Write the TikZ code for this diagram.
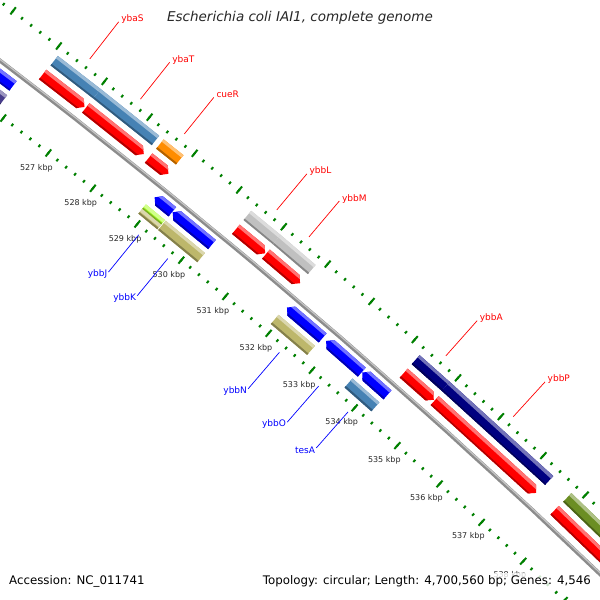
\documentclass[tikz,border=0pt]{standalone}
\usepackage{fontspec}
\setmainfont{DejaVu Sans}
\usepackage{tikz}
\usetikzlibrary{calc}
\definecolor{cvRed}{RGB}{255,0,0}
\definecolor{cvBlue}{RGB}{0,0,255}
\definecolor{cvSteel}{RGB}{70,130,180}
\definecolor{cvSilver}{RGB}{192,192,192}
\definecolor{cvNavy}{RGB}{0,0,128}
\definecolor{cvOrange}{RGB}{255,140,0}
\definecolor{cvKhaki}{RGB}{189,183,107}
\definecolor{cvLime}{RGB}{173,255,47}
\definecolor{cvOlive}{RGB}{107,142,35}
\definecolor{cvSlate}{RGB}{72,61,139}
\definecolor{cvTick}{RGB}{0,128,0}
\definecolor{cvText}{RGB}{40,40,40}
\definecolor{cvBack}{RGB}{140,140,140}
\tikzset{
    backbone/.style={draw=cvBack, line width=4},
    backlight/.style={draw=cvBack!50!white, line width=1.2},
    minortick/.style={draw=cvTick, line width=2},
    majortick/.style={draw=cvTick, line width=2},
    ticklabel/.style={font=\fontsize{8}{9}\selectfont, text=cvText, inner sep=0},
    fwdlink/.style={draw=cvRed, line width=0.7},
    revlink/.style={draw=cvBlue, line width=0.7},
    fwdname/.style={font=\fontsize{9}{10}\selectfont, text=cvRed, inner sep=0},
    revname/.style={font=\fontsize{9}{10}\selectfont, text=cvBlue, inner sep=0},
    titletext/.style={font=\fontsize{13.5}{15}\selectfont\itshape, text=cvText},
    foottext/.style={font=\fontsize{11.8}{13}\selectfont, text=black, fill=white,
                     fill opacity=0.8, text opacity=1, inner sep=2}
}
% kbp position -> angle round the centre of the map
\newcommand{\kang}[1]{(51.43-0.469*(#1-528))}
\newcommand{\bandfill}[3]{%
  \fill[#3] ({\angA+0.2}:{#1}) -- ({\angA+0.2}:{#2}) -- ({\angB-0.2}:{#2}) -- ({\angB-0.2}:{#1}) -- cycle;}
\newcommand{\featshade}[3]{%
  \bandfill{#1-2}{#2+2}{#3}
  \bandfill{#2-3}{#2+2}{#3!55!white}
  \bandfill{#1-2}{#1+2}{#3!70!black}}
% from, to, inner radius, outer radius, colour
\newcommand{\featbar}[5]{%
  \pgfmathsetmacro\angA{\kang{#1}}\pgfmathsetmacro\angB{\kang{#2}}
  \begin{scope}
    \clip (\angA:#3) -- (\angA:#4) -- (\angB:#4) -- (\angB:#3) -- cycle;
    \featshade{#3}{#4}{#5}
  \end{scope}}
\newcommand{\fwdarrow}[5]{%
  \pgfmathsetmacro\angA{\kang{#1}}\pgfmathsetmacro\angB{\kang{#2}}
  \pgfmathsetmacro\angC{\kang{#2-0.1}}
  \begin{scope}
    \clip (\angA:#3) -- (\angC:#3) -- (\angB:{(#3+#4)/2}) -- (\angC:#4) -- (\angA:#4) -- cycle;
    \featshade{#3}{#4}{#5}
  \end{scope}}
\newcommand{\revarrow}[5]{%
  \pgfmathsetmacro\angA{\kang{#1}}\pgfmathsetmacro\angB{\kang{#2}}
  \pgfmathsetmacro\angC{\kang{#1+0.1}}
  \begin{scope}
    \clip (\angA:{(#3+#4)/2}) -- (\angC:#4) -- (\angB:#4) -- (\angB:#3) -- (\angC:#3) -- cycle;
    \featshade{#3}{#4}{#5}
  \end{scope}}

\begin{document}
\begin{tikzpicture}[x=1pt,y=1pt]
  \useasboundingbox (0,0) rectangle (600,-600);
  \fill[white] (0,0) rectangle (600,-600);
  \begin{scope}
  \clip (0,0) rectangle (600,-600);
  \begin{scope}[shift={(-4244,-5627)}]
    % backbone and tick rings
    \draw[backbone] plot[domain=520:542, samples=45] ({\kang{\x}}:7000);
    \draw[backlight] plot[domain=520:542, samples=45] ({\kang{\x}}:7001);
    \foreach \i in {2600,...,2710} {
      \draw[minortick] ({\kang{\i/5}}:7045.5) -- ({\kang{\i/5}}:7048.5);
      \draw[minortick] ({\kang{\i/5}}:6955) -- ({\kang{\i/5}}:6958);
    }
    \foreach \k in {520,...,542} {
      \draw[majortick] ({\kang{\k}}:7043) -- ({\kang{\k}}:7052);
      \draw[majortick] ({\kang{\k}}:6952) -- ({\kang{\k}}:6961);
    }
    \foreach \k in {527,...,538}
      \node[ticklabel] (kbp\k) at ({\kang{\k}}:6937) {\k\ kbp};

    % forward strand
    \featbar{526.09}{527.03}{7027}{7039}{cvSteel}
    \featbar{527.03}{528.33}{7027}{7039}{cvSteel}
    \featbar{528.43}{528.87}{7027}{7039}{cvOrange}
    \featbar{530.39}{531.05}{7027}{7039}{cvSilver}
    \featbar{531.05}{531.85}{7027}{7039}{cvSilver}
    \featbar{534.24}{534.94}{7027}{7039}{cvNavy}
    \featbar{534.94}{537.37}{7027}{7039}{cvNavy}
    \featbar{537.80}{541.00}{7027}{7039}{cvOlive}
    \fwdarrow{526.08}{527.00}{7009}{7021}{cvRed}
    \fwdarrow{527.03}{528.32}{7009}{7021}{cvRed}
    \fwdarrow{528.43}{528.87}{7009}{7021}{cvRed}
    \fwdarrow{530.39}{531.05}{7009}{7021}{cvRed}
    \fwdarrow{531.07}{531.85}{7009}{7021}{cvRed}
    \fwdarrow{534.24}{534.94}{7009}{7021}{cvRed}
    \fwdarrow{534.96}{537.35}{7009}{7021}{cvRed}
    \fwdarrow{537.79}{541.00}{7009}{7021}{cvRed}

    % reverse strand
    \revarrow{523.00}{525.79}{6982}{6994}{cvBlue}
    \revarrow{528.94}{529.34}{6982}{6994}{cvBlue}
    \revarrow{529.35}{530.24}{6982}{6994}{cvBlue}
    \revarrow{531.95}{532.77}{6982}{6994}{cvBlue}
    \revarrow{532.85}{533.68}{6982}{6994}{cvBlue}
    \revarrow{533.69}{534.28}{6982}{6994}{cvBlue}
    \featbar{523.00}{525.81}{6965}{6977}{cvSlate}
    \featbar{528.90}{529.33}{6971}{6977}{cvLime}
    \featbar{528.90}{529.33}{6965}{6971}{cvKhaki}
    \featbar{529.35}{530.24}{6965}{6977}{cvKhaki}
    \featbar{531.92}{532.76}{6965}{6977}{cvKhaki}
    \featbar{533.63}{534.26}{6965}{6977}{cvSteel}

    % gene labels
    \foreach \g/\p in {ybaS/526.56, ybaT/527.68, cueR/528.65, ybbL/530.72,
                       ybbM/531.45, ybbA/534.59, ybbP/536.16} {
      \coordinate (\g-a) at ({\kang{\p}}:7056);
      \coordinate (\g-b) at ({\kang{\p}}:7103);
      \draw[fwdlink] (\g-a) -- (\g-b);
      \node[fwdname, anchor=base west] (\g) at ([xshift=2.5]\g-b) {\g};
    }
    \foreach \g/\p in {ybbJ/529.14, ybbK/529.80, ybbN/532.36, ybbO/533.27, tesA/533.96} {
      \coordinate (\g-a) at ({\kang{\p}}:6949);
      \coordinate (\g-b) at ({\kang{\p}}:6901);
      \draw[revlink] (\g-a) -- (\g-b);
      \node[revname, anchor=east] (\g) at ([xshift=-1,yshift=-2]\g-b) {\g};
    }
  \end{scope}

  \node[titletext] (title) at (300,-18) {Escherichia coli IAI1, complete genome};
  \node[foottext, anchor=west] (accession) at (7,-581) {Accession: NC\_011741};
  \node[foottext, anchor=east] (topology) at (593,-581) {Topology: circular; Length: 4,700,560 bp; Genes: 4,546};
  \end{scope}
\end{tikzpicture}
\end{document}
